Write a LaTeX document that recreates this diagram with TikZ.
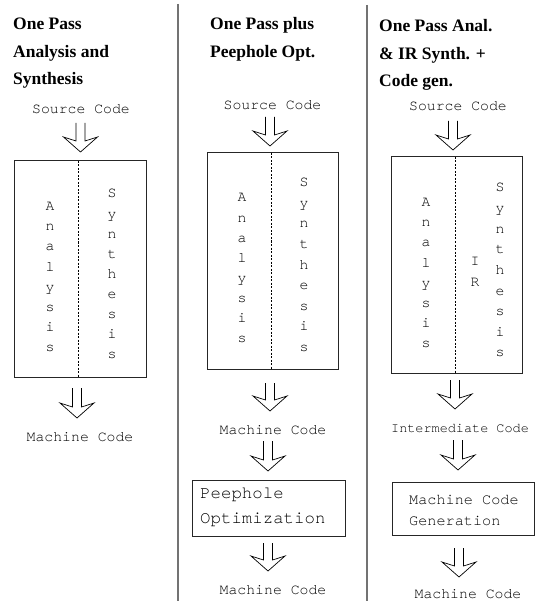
\documentclass[tikz,border=0pt]{standalone}
\usepackage{fontspec}
\setmainfont{Liberation Serif}
\setmonofont{texgyrecursor-regular.otf}
\usetikzlibrary{calc}
\tikzset{
  ttl/.style={font=\bfseries\fontsize{17.5}{20}\selectfont, anchor=base west, inner sep=0pt},
  lab/.style={font=\ttfamily\fontsize{14.8}{18}\selectfont, anchor=base, inner sep=0pt},
  vl/.style={font=\ttfamily\fontsize{14.8}{18}\selectfont, anchor=base, inner sep=0pt},
  boxtxt/.style={anchor=base west, inner sep=0pt},
  sepline/.style={draw=black!55, line width=2pt},
  phase/.style={draw=black!85, line width=1pt, inner sep=0pt, outer sep=0pt},
  divline/.style={line width=0.8pt, dash pattern=on 2pt off 1.5pt},
  arr/.style={line width=0.7pt, line join=miter},
}
\newcommand\harr[2]{\draw[arr] let \p1=(#1), \p2=(#2) in
  ({\x1-4.5pt},\y1) -- ({\x1-4.5pt},{\y2+11pt}) -- ({\x1-17pt},{\y2+15pt}) -- (\x1,\y2)
  -- ({\x1+17pt},{\y2+15pt}) -- ({\x1+4.5pt},{\y2+11pt}) -- ({\x1+4.5pt},\y1);}
\begin{document}
\begin{tikzpicture}[x=1pt,y=-1pt]
\useasboundingbox (0,0) rectangle (540,601);
% separators
\draw[sepline] (178,4) -- (178,601);
\draw[sepline] (367,5) -- (367,601);

% ---------------- column 1
\node[ttl] (t1a) at (13,30) {One Pass};
\node[ttl] (t1b) at (13,57.5) {Analysis and};
\node[ttl] (t1c) at (13,85) {Synthesis};
\node[lab] (src1) at (81,114) {Source Code};
\coordinate (a1t) at (80.5,123); \coordinate (a1b) at (80.5,152);
\harr{a1t}{a1b}
\node[phase, minimum width=132pt, minimum height=216pt] (box1) at (80,269) {};
\draw[divline] (78,161) -- (78,377);
\foreach \c [count=\i] in {A,n,a,l,y,s,i,s}
  \node[vl] (an1-\i) at (50,{207+20*(\i-1)+4}) {\c};
\foreach \c [count=\i] in {S,y,n,t,h,e,s,i,s}
  \node[vl] (sy1-\i) at (112,{194+20.1*(\i-1)+4}) {\c};
\coordinate (a2t) at (77,388); \coordinate (a2b) at (77,418);
\harr{a2t}{a2b}
\node[lab] (mc1) at (80,441) {Machine Code};

% ---------------- column 2
\node[ttl] (t2a) at (210,30) {One Pass plus};
\node[ttl] (t2b) at (210,57.5) {Peephole Opt.};
\node[lab] (src2) at (272.5,109.5) {Source Code};
\coordinate (b1t) at (270,117); \coordinate (b1b) at (270,146);
\harr{b1t}{b1b}
\node[phase, minimum width=131pt, minimum height=216pt] (box2) at (272.5,261) {};
\draw[divline] (271,153) -- (271,369);
\foreach \c [count=\i] in {A,n,a,l,y,s,i,s}
  \node[vl] (an2-\i) at (242,{198+20.1*(\i-1)+4}) {\c};
\foreach \c [count=\i] in {S,y,n,t,h,e,s,i,s}
  \node[vl] (sy2-\i) at (304,{183+20.5*(\i-1)+4}) {\c};
\coordinate (b2t) at (270,383); \coordinate (b2b) at (270,411);
\harr{b2t}{b2b}
\node[lab] (mc2) at (273,434) {Machine Code};
\coordinate (b3t) at (268,441); \coordinate (b3b) at (268,471);
\harr{b3t}{b3b}
\node[phase, minimum width=153pt, minimum height=56pt] (peep) at (268.5,508) {};
\node[boxtxt, font=\ttfamily\fontsize{17.4}{20}\selectfont] (peepa) at (200,498) {Peephole};
\node[boxtxt, font=\ttfamily\fontsize{17.4}{20}\selectfont] (peepb) at (200,523) {Optimization};
\coordinate (b4t) at (268,543); \coordinate (b4b) at (268,571);
\harr{b4t}{b4b}
\node[lab] (mc3) at (273,594) {Machine Code};

% ---------------- column 3
\node[ttl] (t3a) at (379,32) {One Pass Anal.};
\node[ttl] (t3b) at (379,60) {\& IR Synth. +};
\node[ttl] (t3c) at (379,87) {Code gen.};
\node[lab] (src3) at (458,111) {Source Code};
\coordinate (c1t) at (453,121); \coordinate (c1b) at (453,150);
\harr{c1t}{c1b}
\node[phase, minimum width=131pt, minimum height=216pt] (box3) at (456.5,265) {};
\draw[divline] (455,157) -- (455,373);
\foreach \c [count=\i] in {A,n,a,l,y,s,i,s}
  \node[vl] (an3-\i) at (426,{203+20*(\i-1)+4}) {\c};
\node[vl] (ir3-1) at (475,265) {I};
\node[vl] (ir3-2) at (475,286) {R};
\foreach \c [count=\i] in {S,y,n,t,h,e,s,i,s}
  \node[vl] (sy3-\i) at (500,{188+20.6*(\i-1)+4}) {\c};
\coordinate (c2t) at (455,380); \coordinate (c2b) at (455,409);
\harr{c2t}{c2b}
\node[lab, font=\ttfamily\fontsize{13.5}{16}\selectfont] (ic3) at (460,432) {Intermediate Code};
\coordinate (c3t) at (458,440); \coordinate (c3b) at (458,470);
\harr{c3t}{c3b}
\node[phase, minimum width=142pt, minimum height=53pt] (mcg) at (463,508.5) {};
\node[boxtxt, font=\ttfamily\fontsize{15.2}{18}\selectfont] (mcga) at (409,504) {Machine Code};
\node[boxtxt, font=\ttfamily\fontsize{15.2}{18}\selectfont] (mcgb) at (409,525) {Generation};
\coordinate (c4t) at (459,548); \coordinate (c4b) at (459,577);
\harr{c4t}{c4b}
\node[lab] (mc4) at (468,598) {Machine Code};
\end{tikzpicture}
\end{document}
